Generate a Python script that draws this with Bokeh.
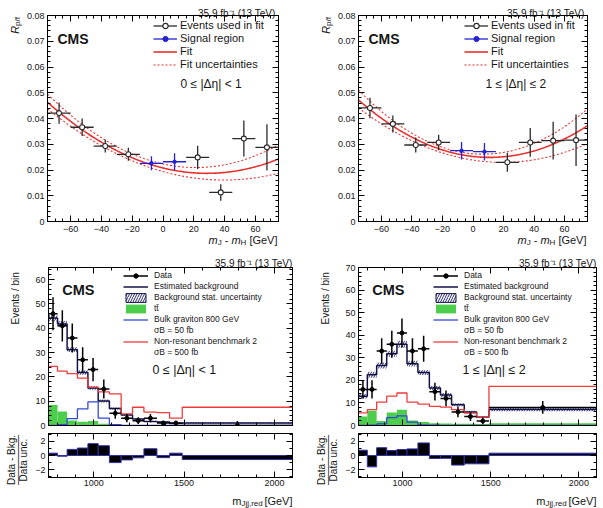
import numpy as np
from bokeh.plotting import figure
from bokeh.models import (Range1d, LinearAxis, Label, Legend, LegendItem, GridBox,
                          SingleIntervalTicker, CustomJSTickFormatter)
from bokeh.core.properties import value
from bokeh.layouts import row, column
from bokeh.embed import file_html
from bokeh.resources import INLINE

FONT = "Liberation Sans"
INK = "#161616"
PAGE_W, PAGE_H = 603, 508

# ---------------------------------------------------------------- R_p/f versus m_J - m_H
mass_centers = [-67.5, -52.5, -37.5, -22.5, -7.5, 7.5, 22.5, 37.5, 52.5, 67.5]
mass_half_width = 7.5
signal_bins = [4, 5]

rpf_deta_lo = [0.0421, 0.0366, 0.0293, 0.0261, 0.0226, 0.0232, 0.0249, 0.0113, 0.0322, 0.0288]
rpf_err_deta_lo = [0.0041, 0.0034, 0.0025, 0.0025, 0.0027, 0.0033, 0.0045, 0.0032, 0.0070, 0.0090]
rpf_deta_hi = [0.0441, 0.0379, 0.0297, 0.0307, 0.0275, 0.0271, 0.0230, 0.0307, 0.0314, 0.0316]
rpf_err_deta_hi = [0.0040, 0.0033, 0.0029, 0.0030, 0.0034, 0.0034, 0.0037, 0.0056, 0.0073, 0.0100]

# second-order polynomial fit R = c0 + c1*x + c2*x^2 and its upper / lower envelopes
fit_deta_lo = [0.02080, -1.470e-4, 2.580e-6]
fit_up_deta_lo = [0.02236, -1.313e-4, 3.074e-6]
fit_dn_deta_lo = [0.01940, -1.667e-4, 2.106e-6]
fit_deta_hi = [0.02527, -6.67e-5, 3.010e-6]
fit_up_deta_hi = [0.02632, -4.93e-5, 3.750e-6]
fit_dn_deta_hi = [0.02385, -9.20e-5, 2.374e-6]

# ---------------------------------------------------------------- m_Jjj,red distributions
mjj_edges = [750, 800, 853, 910, 968, 1025, 1087, 1152, 1215, 1278, 1350, 1420, 1490, 2100]

data_deta_lo = [46, 41, 36, 27, 23, 15, 5, 3, 2, 3, 1, 1, 0]
data_err_deta_lo = [6.8, 6.4, 6.0, 5.2, 4.8, 3.9, 2.2, 1.7, 1.4, 1.7, 1.0, 1.0, 1.8]
bkg_deta_lo = [44.2, 41.8, 31.2, 21.8, 15.4, 10.1, 7.0, 4.3, 2.7, 1.6, 1.4, 0.8, 1.0]
bkg_unc_deta_lo = [1.3, 1.2, 1.0, 0.9, 0.7, 0.6, 0.4, 0.3, 0.25, 0.2, 0.2, 0.15, 0.2]
ttbar_deta_lo = [8.4, 5.8, 2.1, 1.5, 1.8, 0.7, 0.3, 0.2, 0.2, 0.15, 0.1, 0.1, 0.1]
graviton_deta_lo = [0.0, 0.3, 2.8, 6.8, 9.7, 3.0, 0.3, 0.0, 0.0, 0.0, 0.0, 0.0, 0.0]
nonres_deta_lo = [24.3, 22.4, 21.3, 19.5, 15.8, 13.8, 13.0, 4.8, 7.5, 5.5, 5.3, 3.0, 7.5]
pull_deta_lo = [0.33, -0.1, 0.86, 1.05, 1.67, 1.38, -1.0, -0.62, -0.33, 0.95, -0.3, 0.33, -0.57]

data_deta_hi = [16, 16, 33, 36, 41, 33, 34, 15, 12, 6, 4, 2, 8]
data_err_deta_hi = [4.0, 4.0, 5.7, 6.0, 6.4, 5.7, 5.8, 3.9, 3.5, 2.4, 2.0, 1.4, 2.8]
bkg_deta_hi = [13.0, 22.5, 26.6, 31.8, 36.0, 27.4, 23.5, 16.6, 13.5, 9.2, 6.0, 3.7, 7.1]
bkg_unc_deta_hi = [1.0, 1.3, 1.3, 1.3, 1.5, 1.3, 1.1, 0.9, 0.9, 0.7, 0.5, 0.4, 0.8]
ttbar_deta_hi = [4.0, 6.5, 2.0, 5.8, 7.0, 2.2, 1.5, 1.0, 0.9, 0.8, 0.8, 0.7, 1.0]
graviton_deta_hi = [0.0, 0.1, 0.7, 3.5, 4.3, 1.5, 0.3, 0.1, 0.0, 0.0, 0.0, 0.0, 0.0]
nonres_deta_hi = [5.6, 7.0, 10.4, 13.0, 14.4, 10.4, 9.5, 8.5, 8.1, 7.0, 5.5, 3.7, 17.3]
pull_deta_hi = [0.75, -1.6, 1.1, 0.7, 0.84, 0.93, 1.77, -0.42, -0.4, -1.35, -1.17, -1.17, 0.33]

# ---------------------------------------------------------------- colours
RED_FIT = "#e8302f"
BLUE_SR = "#2323d4"
BKG = "#12124a"
HATCH = "#2c2c72"
TTBAR = "#4ccd4c"
GRAV = "#3348d8"
NONRES = "#f03c3c"
PULL_EDGE = "#2f2fa8"

LUMI = "35.9 fb\u207b\u00b9 (13 TeV)"

minus_fmt = CustomJSTickFormatter(code="return (tick < 0 ? '\u2212' : '') + Math.abs(tick).toFixed(0);")
rpf_fmt = CustomJSTickFormatter(code="return Math.abs(tick) < 1e-9 ? '0' : tick.toFixed(2);")
pull_fmt = CustomJSTickFormatter(
    code="return Math.abs(tick) < 1e-9 ? '0' : (tick < 0 ? '\u2212' : '') + Math.abs(tick).toFixed(0);")
blank_fmt = CustomJSTickFormatter(code="return '';")


def make_fig(width, height, borders, x_range, y_range):
    left, right, top, bottom = borders
    p = figure(width=width, height=height, x_range=x_range, y_range=y_range,
               output_backend="svg", toolbar_location=None,
               min_border_left=left, min_border_right=right,
               min_border_top=top, min_border_bottom=bottom)
    p.grid.visible = False
    p.outline_line_color = "black"
    p.outline_line_width = 1
    p.border_fill_color = "white"
    p.background_fill_color = "white"
    return p


def style_axis(ax, ticker, fmt, show, standoff):
    ax.ticker = ticker
    ax.major_tick_in = 6
    ax.major_tick_out = 0
    ax.minor_tick_in = 3
    ax.minor_tick_out = 0
    ax.axis_line_color = "black"
    ax.major_tick_line_color = "black"
    ax.minor_tick_line_color = "black"
    ax.major_label_text_font = FONT
    ax.major_label_text_color = INK
    ax.major_label_standoff = standoff
    if show:
        ax.major_label_text_font_size = "9px"
        if fmt is not None:
            ax.formatter = fmt
    else:
        ax.major_label_text_font_size = "0px"
        ax.formatter = blank_fmt


def frame_axes(p, xticker, yticker, xfmt=None, yfmt=None, xlabels=True, xstand=4):
    style_axis(p.xaxis[0], xticker, xfmt, xlabels, xstand if xlabels else 0)
    style_axis(p.yaxis[0], yticker, yfmt, True, 3)
    top = LinearAxis()
    style_axis(top, xticker, None, False, 0)
    p.add_layout(top, "above")
    rgt = LinearAxis()
    style_axis(rgt, yticker, None, False, 0)
    p.add_layout(rgt, "right")


def text(p, s, x, y, size, align="left", style="normal", angle=0.0, baseline="alphabetic"):
    p.add_layout(Label(x=x, y=y, x_units="screen", y_units="screen", text=s,
                       text_font=FONT, text_font_size=f"{size}px", text_font_style=style,
                       text_align=align, text_baseline=baseline, angle=angle, text_color=INK))


def step_xy(edges, vals):
    xs, ys = [], []
    for i, v in enumerate(vals):
        xs += [edges[i], edges[i + 1]]
        ys += [v, v]
    return xs, ys


def legend_box(items, loc, font_size, row_h, glyph_w, standoff):
    return Legend(items=items, location=loc, glyph_width=glyph_w, glyph_height=row_h,
                  label_height=row_h, label_standoff=standoff, spacing=0, padding=0, margin=0,
                  border_line_alpha=0, background_fill_alpha=0,
                  label_text_font=FONT, label_text_font_size=f"{font_size}px",
                  label_text_color=INK, label_text_baseline="middle")


# ---------------------------------------------------------------- upper row: R_p/f panels
def rpf_panel(width, left, right, rpf, err, fit, fit_up, fit_dn, deta_label, deta_x):
    p = make_fig(width, 250, (left, right, 15, 29), Range1d(-75, 75), Range1d(0, 0.08))
    frame_axes(p, SingleIntervalTicker(interval=20, num_minor_ticks=4),
               SingleIntervalTicker(interval=0.01, num_minor_ticks=5),
               xfmt=minus_fmt, yfmt=rpf_fmt)

    xs = np.linspace(-75, 75, 301)

    def poly(c):
        return c[0] + c[1] * xs + c[2] * xs ** 2

    r_fit = p.line(xs, poly(fit), line_color=RED_FIT, line_width=1.6)
    r_up = p.line(xs, poly(fit_up), line_color=RED_FIT, line_width=1.1, line_dash="2 2")
    p.line(xs, poly(fit_dn), line_color=RED_FIT, line_width=1.1, line_dash="2 2")

    x = np.array(mass_centers)
    y = np.array(rpf)
    e = np.array(err)
    sr = np.zeros(len(x), dtype=bool)
    sr[signal_bins] = True

    groups = {}
    for key, mask, color in (("cr", ~sr, "#2a2a2a"), ("sr", sr, BLUE_SR)):
        xm, ym, em = x[mask], y[mask], e[mask]
        h = p.segment(x0=xm - mass_half_width, x1=xm + mass_half_width, y0=ym, y1=ym,
                      line_color=color, line_width=1.3)
        p.segment(x0=xm, x1=xm, y0=ym - em, y1=ym + em, line_color=color, line_width=1.3)
        tick = p.scatter(x=[np.nan], y=[np.nan], marker="dash", angle=np.pi / 2, size=6,
                         line_color=color, line_width=1.3)
        if key == "cr":
            pt = p.scatter(x=xm, y=ym, marker="circle", size=5, fill_color="white",
                           line_color=color, line_width=1.1)
        else:
            pt = p.scatter(x=xm, y=ym, marker="circle", size=3.5, fill_color=color,
                           line_color=color)
        groups[key] = [h, tick, pt]

    p.add_layout(legend_box([
        LegendItem(label=value("Events used in fit"), renderers=groups["cr"]),
        LegendItem(label=value("Signal region"), renderers=groups["sr"]),
        LegendItem(label=value("Fit"), renderers=[r_fit]),
        LegendItem(label=value("Fit uncertainties"), renderers=[r_up]),
    ], (106, 150.5), 11, 13, 24, 3))

    text(p, deta_label, deta_x, 137.5, 12)
    text(p, "CMS", 10, 182.5, 14, style="bold")
    return p


# ---------------------------------------------------------------- lower row: m_Jjj,red panels
def mjj_panel(width, left, right, ymax, data, derr, bkg, bunc, tt, grav, nonres,
              pull, deta_label):
    edges = np.array(mjj_edges, dtype=float)
    lo, hi = edges[:-1], edges[1:]
    centers = 0.5 * (lo + hi)
    data = np.array(data, dtype=float)
    derr = np.array(derr)
    bkg = np.array(bkg)
    bunc = np.array(bunc)

    p = make_fig(width, 179, (left, right, 17, 4), Range1d(750, 2100), Range1d(0, ymax))
    xticker = SingleIntervalTicker(interval=500, num_minor_ticks=5)
    frame_axes(p, xticker, SingleIntervalTicker(interval=10, num_minor_ticks=5), xlabels=False)

    r_tt = p.quad(left=lo, right=hi, bottom=0, top=tt, fill_color=TTBAR, line_alpha=0)
    p.quad(left=lo, right=hi, bottom=bkg - bunc, top=bkg + bunc, fill_alpha=0, line_alpha=0,
           hatch_pattern="/", hatch_color=HATCH, hatch_scale=5, hatch_weight=1)
    r_band = p.quad(left=[np.nan], right=[np.nan], bottom=[np.nan], top=[np.nan],
                    fill_color="white", line_color=BKG, line_width=1,
                    hatch_pattern="/", hatch_color=HATCH, hatch_scale=5, hatch_weight=1)
    bx, by = step_xy(edges, bkg)
    r_bkg = p.line(bx, by, line_color=BKG, line_width=1.5)
    gx, gy = step_xy(edges, grav)
    r_grav = p.line(gx, gy, line_color=GRAV, line_width=1.3)
    nx, ny = step_xy(edges, nonres)
    r_nonres = p.line(nx, ny, line_color=NONRES, line_width=1.3)

    r_dh = p.segment(x0=lo, x1=hi, y0=data, y1=data, line_color="black", line_width=1.5)
    p.segment(x0=centers, x1=centers, y0=np.clip(data - derr, 0, None), y1=data + derr,
              line_color="black", line_width=1.5)
    r_dtick = p.scatter(x=[np.nan], y=[np.nan], marker="dash", angle=np.pi / 2, size=6,
                        line_color="black", line_width=1.5)
    r_dot = p.scatter(x=centers, y=data, marker="circle", size=4, fill_color="black",
                      line_color="black")

    p.add_layout(legend_box([
        LegendItem(label=value("Data"), renderers=[r_dh, r_dtick, r_dot]),
        LegendItem(label=value("Estimated background"), renderers=[r_bkg]),
        LegendItem(label=value("Background stat. uncertainty"), renderers=[r_band]),
        LegendItem(label=value("t\u0074\u0304"), renderers=[r_tt]),
        LegendItem(label=value("Bulk graviton 800 GeV"), renderers=[r_grav]),
        LegendItem(label=value("\u03c3B = 50 fb"), renderers=[]),
        LegendItem(label=value("Non-resonant benchmark 2"), renderers=[r_nonres]),
        LegendItem(label=value("\u03c3B = 500 fb"), renderers=[]),
    ], (75, 67.5), 8.5, 11, 25, 6))

    text(p, deta_label, 104, 55.7, 12.5)
    text(p, "CMS", 13.7, 135.7, 14.5, style="bold")

    # pull panel
    q = make_fig(width, 79, (left, right, 4, 31), Range1d(750, 2100), Range1d(-3.1, 3.1))
    frame_axes(q, xticker, SingleIntervalTicker(interval=2, num_minor_ticks=2),
               yfmt=pull_fmt, xstand=2)
    q.quad(left=lo, right=hi, bottom=0, top=pull, fill_color="black",
           line_color=PULL_EDGE, line_width=1)
    return column(p, q)


top_left = rpf_panel(300, 47, 22, rpf_deta_lo, rpf_err_deta_lo, fit_deta_lo, fit_up_deta_lo,
                     fit_dn_deta_lo, "0 \u2264 |\u0394\u03b7| < 1", 133)
top_right = rpf_panel(303, 58, 16, rpf_deta_hi, rpf_err_deta_hi, fit_deta_hi, fit_up_deta_hi,
                      fit_dn_deta_hi, "1 \u2264 |\u0394\u03b7| \u2264 2", 127)
bottom_left = mjj_panel(300, 48, 8, 65, data_deta_lo, data_err_deta_lo, bkg_deta_lo,
                        bkg_unc_deta_lo, ttbar_deta_lo, graviton_deta_lo, nonres_deta_lo,
                        pull_deta_lo, "0 \u2264 |\u0394\u03b7| < 1")
bottom_right = mjj_panel(303, 58, 7, 70, data_deta_hi, data_err_deta_hi, bkg_deta_hi,
                         bkg_unc_deta_hi, ttbar_deta_hi, graviton_deta_hi, nonres_deta_hi,
                         pull_deta_hi, "1 \u2264 |\u0394\u03b7| \u2264 2")
panels = column(row(top_left, top_right), row(bottom_left, bottom_right))

# ---------------------------------------------------------------- titles around the frames
# a transparent sheet laid over the panels carries the axis titles and luminosity notes
sheet = figure(width=PAGE_W, height=PAGE_H, x_range=Range1d(0, PAGE_W), y_range=Range1d(0, PAGE_H),
               output_backend="svg", toolbar_location=None, x_axis_type=None, y_axis_type=None,
               min_border=0, min_border_left=0, min_border_right=0, min_border_top=0,
               min_border_bottom=0)
sheet.outline_line_color = None
sheet.background_fill_color = None
sheet.background_fill_alpha = 0
sheet.border_fill_color = None
sheet.border_fill_alpha = 0


def note(s, x, y_top, size, align="left", style="normal", angle=0.0):
    text(sheet, s, x, PAGE_H - y_top, size, align=align, style=style, angle=angle)


UP = np.pi / 2
for frame_left, frame_right in ((47, 278), (358, 587)):
    note(LUMI, frame_right - 3, 12.7, 10, align="right")
    note("R", frame_left - 32.5, 33.3, 11, style="italic", angle=UP)
    note("p/f", frame_left - 30, 25.4, 8, angle=UP)
    end = frame_right - 1
    note("[GeV]", end, 239.3, 11, align="right")
    note("H", end - 36.9, 241.8, 8)
    note("m", end - 46.1, 239.3, 11, style="italic")
    note("-", end - 52.8, 239.3, 11)
    note("J", end - 59.8, 241.8, 8)
    note("m", end - 69.0, 239.3, 11, style="italic")

for frame_left, frame_right in ((48, 292), (358, 596)):
    note(LUMI, frame_right, 263.3, 10, align="right")
    note("Events / bin", frame_left - 33, 271.7, 10, align="right", angle=UP)
    note("Data - Bkg.", frame_left - 37, 459.5, 10, align="center", angle=UP)
    note("\u2014\u2014\u2014\u2014\u2014", frame_left - 31.2, 459.5, 10, align="center", angle=UP)
    note("Data unc.", frame_left - 25.5, 459.5, 10, align="center", angle=UP)
    note("[GeV]", frame_right, 500, 11, align="right")
    note("Jjj,red", frame_right - 51.1, 502.5, 8)
    note("m", frame_right - 60.3, 500, 11)

layout = GridBox(children=[(panels, 0, 0), (sheet, 0, 0)])

with open("out.html", "w") as f:
    f.write(file_html(layout, INLINE))
